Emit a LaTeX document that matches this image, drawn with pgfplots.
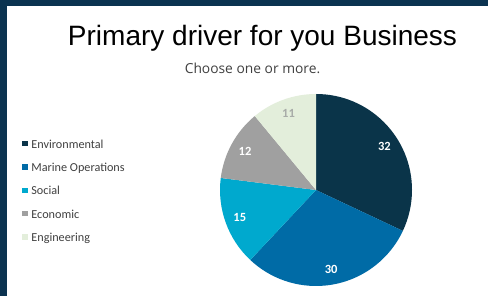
\documentclass[border=0pt]{standalone}
\usepackage{pgfplots}
\pgfplotsset{compat=1.18}
\usepackage{pgfplotstable}
\usetikzlibrary{calc}
\usepackage{fontspec}
\setmainfont{Carlito}
\newfontfamily\arialf{Liberation Sans}
\newfontfamily\opensf{Open Sans}
\definecolor{frame}{HTML}{0B3350}
\definecolor{slice0}{HTML}{0A3449}
\definecolor{slice1}{HTML}{006BA6}
\definecolor{slice2}{HTML}{00A9CE}
\definecolor{slice3}{HTML}{A0A0A0}
\definecolor{slice4}{HTML}{E3EEDB}
\colorlet{lab0}{white}
\colorlet{lab1}{white}
\colorlet{lab2}{white}
\colorlet{lab3}{white}
\definecolor{lab4}{HTML}{A8ACA8}
\definecolor{txtc}{HTML}{404040}
\pgfplotstableread{
label value
Environmental 32
Marine 30
Social 15
Economic 12
Engineering 11
}\piedata
\begin{document}
\begin{tikzpicture}
\gdef\cum{0}
\foreach \i in {0,...,4}{%
  \pgfplotstablegetelem{\i}{value}\of\piedata
  \edef\va{\pgfplotsretval}%
  \pgfmathsetmacro\sa{90-3.6*\cum}%
  \pgfmathsetmacro\ea{90-3.6*(\cum+\va)}%
  \pgfmathsetmacro\ma{(\sa+\ea)/2}%
  \pgfmathsetmacro\nc{\cum+\va}%
  \expandafter\xdef\csname sa\i\endcsname{\sa}%
  \expandafter\xdef\csname ea\i\endcsname{\ea}%
  \expandafter\xdef\csname ma\i\endcsname{\ma}%
  \expandafter\xdef\csname va\i\endcsname{\va}%
  \xdef\cum{\nc}%
}
\begin{axis}[
  scale only axis, width=488bp, height=296bp,
  xmin=0, xmax=488, ymin=0, ymax=296,
  hide axis, clip=false,
  legend style={at={(axis cs:22,157)}, anchor=north west, draw=none, fill=none,
    font=\fontsize{12.2bp}{14bp}\selectfont, text=txtc,
    row sep=11.3bp, inner sep=0pt,
    nodes={inner sep=0pt, text height=9bp, text depth=3bp},
    /tikz/every odd column/.style={column sep=3.8bp}},
  legend cell align=left,
  legend image code/.code={\fill[#1, draw=none] (0bp,-1.2bp) rectangle (5.4bp,4.2bp);},
]
\fill[frame] (axis cs:0,0) rectangle (axis cs:488,296);
\fill[white] (axis cs:7,0) rectangle (axis cs:488,290);
\node[anchor=base, font=\arialf\fontsize{28bp}{32bp}\selectfont] at (axis cs:262.5,250) {Primary driver for you Business};
\node[anchor=base, text=txtc, font=\opensf\fontsize{13.8bp}{16bp}\selectfont] at (axis cs:252.5,222.5) {Choose one or more.};
\pgfplotsinvokeforeach{0,...,4}{%
  \fill[fill=slice#1]
    (axis cs:316,106) -- ++(\csname sa#1\endcsname:96bp)
    arc[start angle=\csname sa#1\endcsname, end angle=\csname ea#1\endcsname, radius=96bp] -- cycle;
}
\pgfplotsinvokeforeach{0,...,4}{%
  \node[font=\bfseries\fontsize{12.5bp}{14bp}\selectfont, text=lab#1]
    at ($(axis cs:316,106)+(\csname ma#1\endcsname:81bp)$) {\csname va#1\endcsname};
}
\addlegendimage{fill=slice0}\addlegendentry{Environmental}
\addlegendimage{fill=slice1}\addlegendentry{Marine Operations}
\addlegendimage{fill=slice2}\addlegendentry{Social}
\addlegendimage{fill=slice3}\addlegendentry{Economic}
\addlegendimage{fill=slice4}\addlegendentry{Engineering}
\end{axis}
\end{tikzpicture}
\end{document}
